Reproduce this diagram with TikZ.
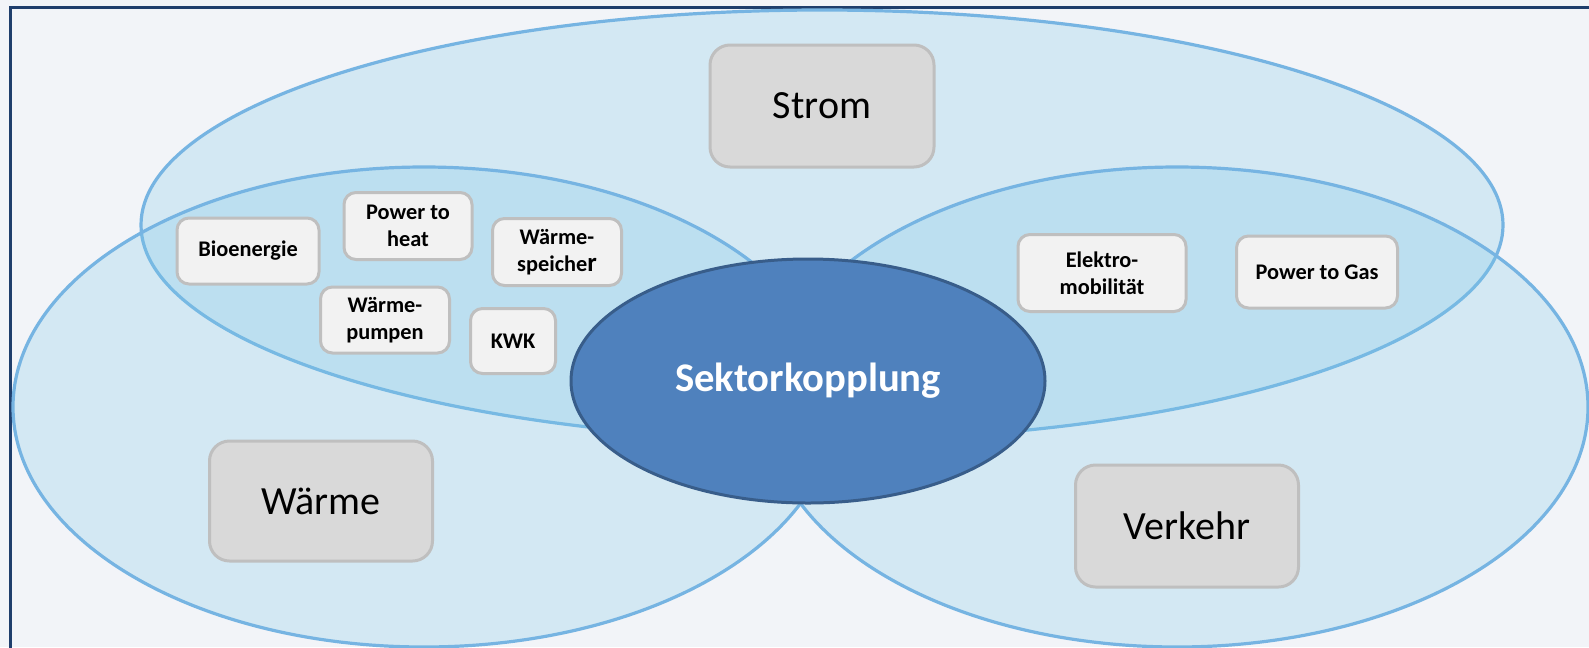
\documentclass[tikz,border=0pt]{standalone}
\usepackage{fontspec}
\setmainfont{Carlito}
\usepackage{tikz}
\usetikzlibrary{shapes.geometric}

\definecolor{bgpage}{RGB}{242,244,248}
\definecolor{framenavy}{RGB}{31,62,108}
\definecolor{sectorfill}{RGB}{122,200,232}
\definecolor{sectoredge}{RGB}{118,180,226}
\definecolor{hubfill}{RGB}{79,129,189}
\definecolor{hubedge}{RGB}{56,93,138}
\definecolor{boxgrey}{RGB}{217,217,217}
\definecolor{boxlight}{RGB}{242,242,242}
\definecolor{boxedge}{RGB}{191,191,191}

\begin{document}
\begin{tikzpicture}[x=0.75pt,y=0.75pt,yscale=-1,xscale=1,
    sector/.style={fill=sectorfill,fill opacity=0.25,draw=sectoredge,draw opacity=1,line width=2.4pt},
    sectorbox/.style={draw=boxedge,fill=boxgrey,line width=2.25pt,rounded corners=15pt,inner sep=0pt,font=\fontsize{30}{36}\selectfont},
    techbox/.style={draw=boxedge,fill=boxlight,line width=2.25pt,rounded corners=9pt,inner sep=0pt,align=center,font=\bfseries\fontsize{16.75}{20}\selectfont},
    hub/.style={ellipse,draw=hubedge,fill=hubfill,line width=2.25pt,inner sep=0pt,text=white,font=\bfseries\fontsize{30.5}{36}\selectfont}]
    %set diagram left start at 0, and has height of 647
    \useasboundingbox (0,0) rectangle (1589,647);
    \fill [bgpage] (0,0) rectangle (1589,647);
    %Shape: Frame
    \draw [framenavy,line width=1.9pt] (10.5,650) -- (10.5,7.5) -- (1592,7.5);

    %Shape: Ellipse [Strom]
    \draw [sector] (822,225) ellipse [x radius=681, y radius=215];
    %Shape: Ellipse [Waerme]
    \draw [sector] (424,407) ellipse [x radius=411, y radius=240];
    %Shape: Ellipse [Verkehr]
    \draw [sector] (1177,407) ellipse [x radius=411, y radius=240];

    %Shape: Ellipse [Sektorkopplung]
    \draw (808,381) node [hub,minimum width=355.5pt,minimum height=183pt] (kopplung) {Sektorkopplung};

    % Text Node
    \draw (822,106) node [sectorbox,minimum width=168pt,minimum height=91.5pt] (strom) {Strom};
    % Text Node
    \draw (321,501) node [sectorbox,minimum width=167.25pt,minimum height=90pt] (waerme) {Wärme};
    % Text Node
    \draw (1187,526) node [sectorbox,minimum width=167.25pt,minimum height=91.5pt] (verkehr) {Verkehr};

    % Text Node
    \draw (248,251) node [techbox,minimum width=106.5pt,minimum height=49.5pt] (bio) {Bioenergie};
    % Text Node
    \draw (408,226) node [techbox,minimum width=96pt,minimum height=50.25pt] (pth) {Power to\\heat};
    % Text Node
    \draw (557,252) node [techbox,minimum width=96.75pt,minimum height=50.25pt] (speicher) {Wärme-\\speiche{\fontsize{20}{20}\selectfont r}};
    % Text Node
    \draw (385,320) node [techbox,minimum width=96.75pt,minimum height=49.5pt] (pumpen) {Wärme-\\pumpen};
    % Text Node
    \draw (513,341) node [techbox,minimum width=63.75pt,minimum height=48.75pt] (kwk) {KWK};
    % Text Node
    \draw (1102,273) node [techbox,minimum width=126pt,minimum height=57.75pt] (emob) {Elektro-\\mobilität};
    % Text Node
    \draw (1317,272) node [techbox,minimum width=120.75pt,minimum height=54pt] (ptg) {Power to Gas};

\end{tikzpicture}
\end{document}
